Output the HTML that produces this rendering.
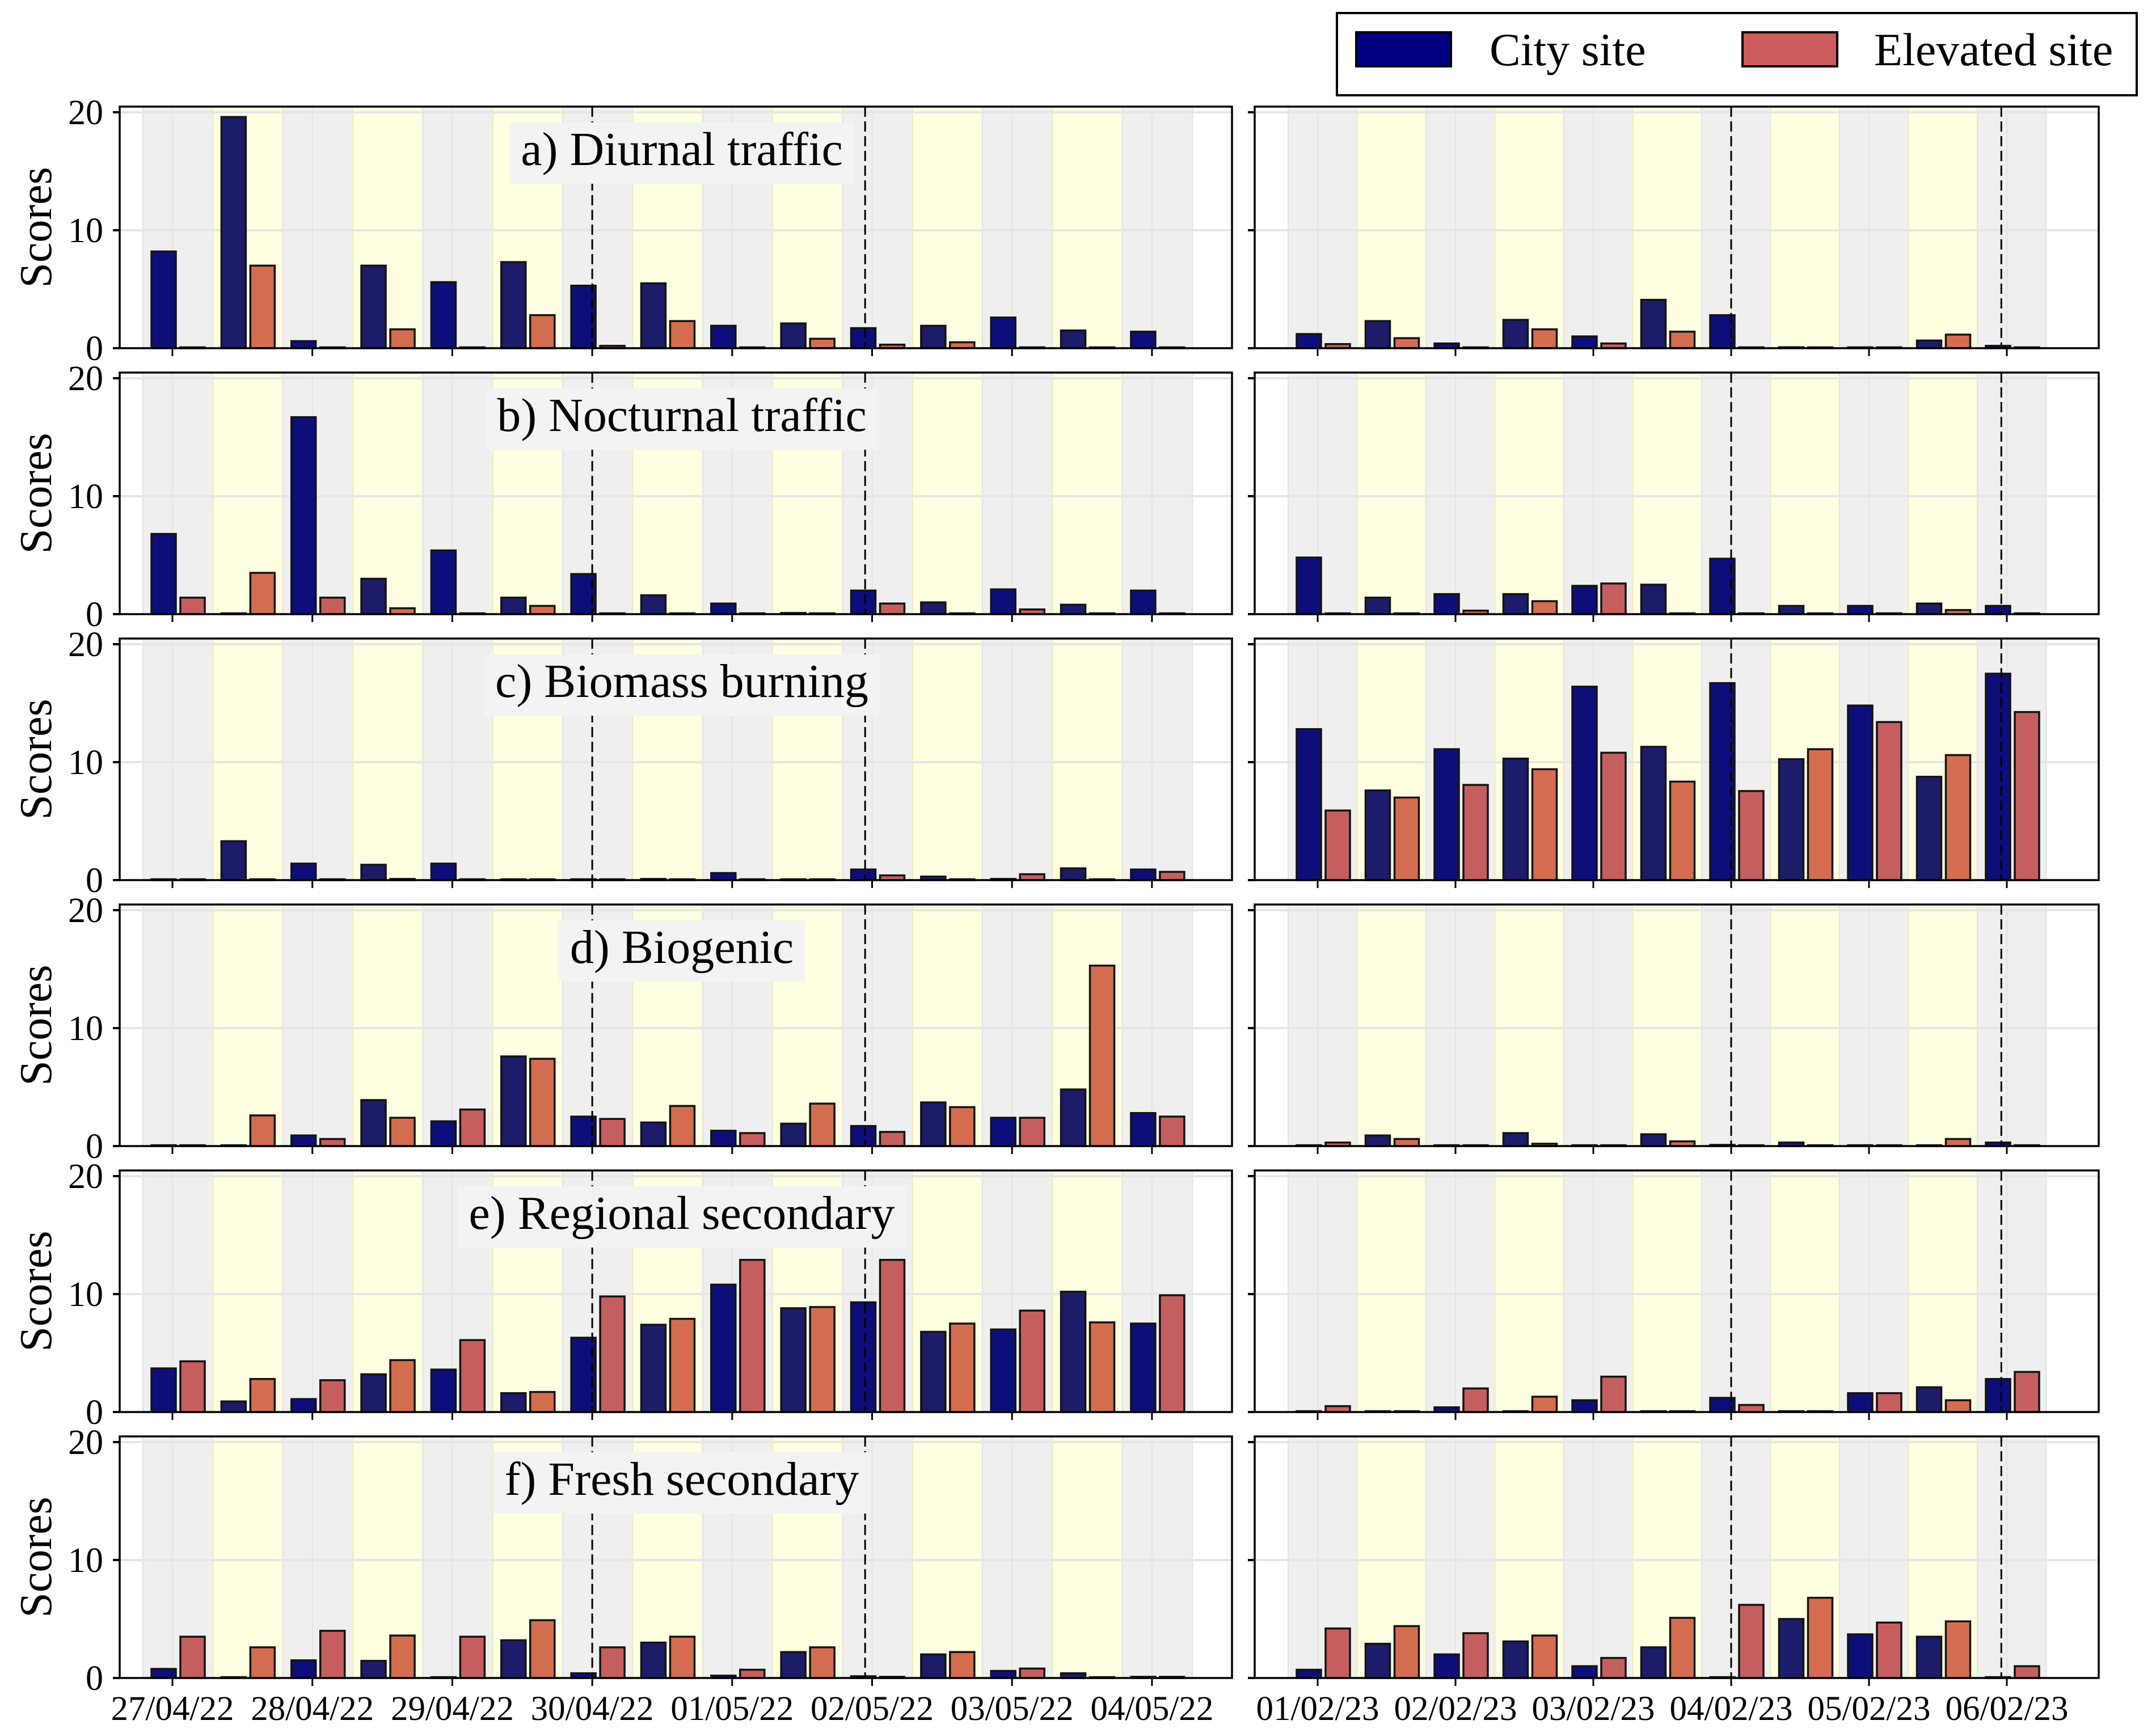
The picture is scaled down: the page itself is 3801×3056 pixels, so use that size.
<!DOCTYPE html>
<html><head><meta charset="utf-8">
<style>
html,body{margin:0;padding:0;background:#fff;}
svg{display:block;font-family:"Liberation Serif","DejaVu Serif",serif;}
</style></head>
<body>
<svg id="fig" width="3801" height="3056" viewBox="0 0 3801 3056" xmlns="http://www.w3.org/2000/svg">
<g id="legend">
<rect x="2357" y="23" width="1410" height="145" fill="#fff" stroke="#000" stroke-width="4"/>
<rect x="2391" y="57" width="167" height="60" fill="#000080" stroke="#000" stroke-width="4"/>
<text x="2626" y="115" font-size="82">City site</text>
<rect x="3072" y="57" width="167" height="60" fill="#cd5c5c" stroke="#000" stroke-width="4"/>
<text x="3304" y="115" font-size="82">Elevated site</text>
</g>
</svg>
<script>
// ---- data ----
const panelTitles = ["a) Diurnal traffic","b) Nocturnal traffic","c) Biomass burning","d) Biogenic","e) Regional secondary","f) Fresh secondary"];
const leftDates = ["27/04/22","28/04/22","29/04/22","30/04/22","01/05/22","02/05/22","03/05/22","04/05/22"];
const rightDates = ["01/02/23","02/02/23","03/02/23","04/02/23","05/02/23","06/02/23"];
const yTicks = [0,10,20];
// left (spring 2022) city / elevated, 15 half-day periods
const leftCityA = [8.2,19.6,0.6,7.0,5.6,7.3,5.3,5.5,1.9,2.1,1.7,1.9,2.6,1.5,1.4];
const leftElevA = [0,7.0,0,1.6,0,2.8,0.2,2.3,0,0.8,0.3,0.5,0,0,0];
const leftCityB = [6.8,0,16.7,3.0,5.4,1.4,3.4,1.6,0.9,0.1,2.0,1.0,2.1,0.8,2.0];
const leftElevB = [1.4,3.5,1.4,0.5,0,0.7,0,0,0,0.05,0.9,0,0.4,0.05,0];
const leftCityC = [0.05,3.3,1.4,1.3,1.4,0.05,0.05,0.1,0.6,0.05,0.9,0.3,0.1,1.0,0.9];
const leftElevC = [0.05,0.05,0.05,0.1,0.05,0.05,0.05,0.05,0.05,0.05,0.4,0.05,0.5,0.05,0.7];
const leftCityD = [0.05,0.05,0.9,3.9,2.1,7.6,2.5,2.0,1.3,1.9,1.7,3.7,2.4,4.8,2.8];
const leftElevD = [0.05,2.6,0.6,2.4,3.1,7.4,2.3,3.4,1.1,3.6,1.2,3.3,2.4,15.3,2.5];
const leftCityE = [3.7,0.9,1.1,3.2,3.6,1.6,6.3,7.4,10.8,8.8,9.3,6.8,7.0,10.2,7.5];
const leftElevE = [4.3,2.8,2.7,4.4,6.1,1.7,9.8,7.9,12.9,8.9,12.9,7.5,8.6,7.6,9.9];
const leftCityF = [0.77,0.02,1.5,1.45,0.02,3.2,0.4,3.0,0.2,2.2,0.15,2.0,0.6,0.4,0.1];
const leftElevF = [3.5,2.6,4.0,3.6,3.5,4.9,2.6,3.5,0.7,2.6,0.1,2.2,0.8,0.05,0.1];
// right (winter 2023), 11 half-day periods
const rightCityA = [1.2,2.3,0.4,2.4,1.0,4.1,2.8,0.08,0.05,0.65,0.2];
const rightElevA = [0.35,0.85,0.05,1.6,0.4,1.4,0.03,0.05,0.05,1.15,0.05];
const rightCityB = [4.8,1.4,1.7,1.7,2.4,2.5,4.7,0.7,0.7,0.9,0.7];
const rightElevB = [0.05,0.05,0.3,1.1,2.6,0.05,0.05,0.05,0.05,0.35,0.05];
const rightCityC = [12.8,7.6,11.1,10.3,16.4,11.3,16.7,10.25,14.8,8.76,17.5];
const rightElevC = [5.9,7.0,8.07,9.4,10.8,8.35,7.55,11.1,13.4,10.6,14.25];
const rightCityD = [0.05,0.9,0.05,1.1,0.05,1.0,0.1,0.3,0.05,0.05,0.3];
const rightElevD = [0.3,0.6,0.05,0.2,0.05,0.4,0.05,0.05,0.05,0.6,0.05];
const rightCityE = [0.05,0.05,0.4,0.05,1.0,0.05,1.2,0.05,1.6,2.1,2.8];
const rightElevE = [0.5,0.05,2.0,1.3,3.0,0.05,0.6,0.05,1.6,1.0,3.4];
const rightCityF = [0.7,2.9,2.0,3.1,1.0,2.6,0.05,5.0,3.7,3.5,0.05];
const rightElevF = [4.2,4.4,3.8,3.6,1.7,5.1,6.2,6.8,4.7,4.8,1.0];
const leftDashedDays = [3,4.95];
const rightDashedDays = [3,4.96];

const leftCity=[leftCityA,leftCityB,leftCityC,leftCityD,leftCityE,leftCityF];
const leftElev=[leftElevA,leftElevB,leftElevC,leftElevD,leftElevE,leftElevF];
const rightCity=[rightCityA,rightCityB,rightCityC,rightCityD,rightCityE,rightCityF];
const rightElev=[rightElevA,rightElevB,rightElevC,rightElevD,rightElevE,rightElevF];

const NS="http://www.w3.org/2000/svg";
const svg=document.getElementById('fig');
function mk(tag,attrs,parent){const e=document.createElementNS(NS,tag);for(const k in attrs)e.setAttribute(k,attrs[k]);(parent||svg).appendChild(e);return e;}

const TOP0=188, PITCH=469, H=426, YMAX=20.48;
const L={x0:211,x1:2172,band0:252,bw:123.35,n:15};
const R={x0:2212,x1:3700,band0:2271,bw:121.5,n:11};
const colCity=["#0e0e7a","#1c1c6b"], colElev=["#c55f5f","#d46d50"];

function drawPanel(p,ax,cityVals,elevVals,dates,dashed,isLeft){
  const top=TOP0+p*PITCH, bot=top+H;
  const y=v=>bot-(v/YMAX)*H;
  const g=mk('g',{});
  
  
  mk('rect',{x:ax.x0,y:top,width:ax.x1-ax.x0,height:H,fill:'#fff'},g);
  for(let i=0;i<ax.n;i++){
    const b=mk('rect',{x:ax.band0+i*ax.bw,y:top,width:ax.bw,height:H,fill:i%2?'#fefee0':'#efefef',stroke:i%2?'#ecebc4':'#e2e2e2','stroke-width':2},g);
    
    
  }
  yTicks.forEach(t=>{if(t>0)mk('line',{x1:ax.x0,x2:ax.x1,y1:y(t),y2:y(t),stroke:'#e6e6e6','stroke-width':4},g);});
  dates.forEach((d,k)=>{const xx=ax.band0+52+k*ax.bw*2;mk('line',{x1:xx,x2:xx,y1:top,y2:bot,stroke:'#e4e4e4','stroke-width':2},g);});
  for(let i=0;i<ax.n;i++){
    const bs=ax.band0+i*ax.bw;
    const hc=Math.max(bot-y(cityVals[i]),1.5), he=Math.max(bot-y(elevVals[i]),1.5);
    const c=mk('rect',{x:bs+15,y:bot-hc,width:43,height:hc,fill:colCity[i%2],stroke:'#141410','stroke-width':3.5},g);
    
    
    const e=mk('rect',{x:bs+66,y:bot-he,width:43,height:he,fill:colElev[i%2],stroke:'#141410','stroke-width':3.5},g);
    
    
  }
  dashed.forEach(dd=>{const xx=ax.band0+52+dd*ax.bw*2;
    const l=mk('line',{x1:xx,x2:xx,y1:top,y2:bot,stroke:'#000','stroke-width':3,'stroke-dasharray':'18,8'},g);
    
    });
  if(isLeft){
    const t=mk('text',{x:1202,y:top+103,'font-size':84,'text-anchor':'middle'},g);
    t.textContent=panelTitles[p];
    
    
    const bb=t.getBBox();
    const box=mk('rect',{x:bb.x-20,y:top+28,width:bb.width+40,height:108,fill:'#f3f3f3'});
    g.insertBefore(box,t);
    
    
  }
  mk('rect',{x:ax.x0,y:top,width:ax.x1-ax.x0,height:H,fill:'none',stroke:'#000','stroke-width':3.5},g);
  yTicks.forEach(t=>{
    mk('line',{x1:ax.x0-12,x2:ax.x0,y1:y(t),y2:y(t),stroke:'#000','stroke-width':4},g);
    if(isLeft){const tl=mk('text',{x:182,y:y(t)+21,'font-size':62,'text-anchor':'end'},g);tl.textContent=t;
      
      }
  });
  dates.forEach((d,k)=>{const xx=ax.band0+52+k*ax.bw*2;
    mk('line',{x1:xx,x2:xx,y1:bot,y2:bot+14,stroke:'#000','stroke-width':3},g);
    if(p===5){const tl=mk('text',{x:xx,y:3033,'font-size':61,'text-anchor':'middle'},g);tl.textContent=d;
      
      }
  });
  if(isLeft){
    const cy=(top+bot)/2;
    const s=mk('text',{x:0,y:0,'font-size':80,'text-anchor':'middle',transform:`translate(90,${cy}) rotate(-90)`},g);
    s.textContent='Scores';
    
    
  }
}
for(let p=0;p<6;p++){
  drawPanel(p,L,leftCity[p],leftElev[p],leftDates,leftDashedDays,true);
  drawPanel(p,R,rightCity[p],rightElev[p],rightDates,rightDashedDays,false);
}
svg.appendChild(document.getElementById('legend'));
</script>
</body></html>
